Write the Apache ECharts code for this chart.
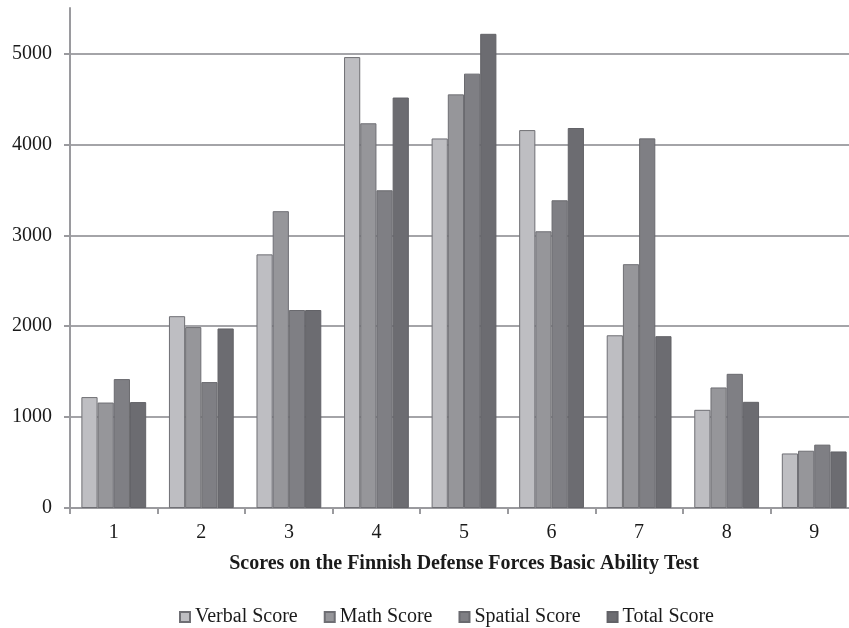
<!DOCTYPE html>
<html>
<head>
<meta charset="utf-8">
<script src="https://cdn.jsdelivr.net/npm/echarts@6/dist/echarts.min.js"></script>
<style>
html, body { margin: 0; padding: 0; background: #fff; overflow: hidden; }
#chart { width: 858px; height: 628px; }
</style>
</head>
<body>
<div id="chart"></div>
<script>
var categories = ['1', '2', '3', '4', '5', '6', '7', '8', '9'];
var seriesNames = ['Verbal Score', 'Math Score', 'Spatial Score', 'Total Score'];
var verbal = [1220, 2110, 2790, 4960, 4065, 4157, 1900, 1080, 600];
var math = [1160, 1990, 3265, 4232, 4550, 3044, 2682, 1326, 630];
var spatial = [1418, 1385, 2178, 3495, 4778, 3385, 4066, 1476, 697];
var total = [1165, 1975, 2178, 4515, 5216, 4180, 1890, 1168, 622];

var fills = ['#bebec2', '#96969a', '#7f7f84', '#6c6c71'];
var borders = ['#6f6f74', '#6f6f74', '#6a6a6f', '#626267'];
var values = [verbal, math, spatial, total];

var serif = '"Liberation Serif", "Times New Roman", serif';

var series = [];
for (var i = 0; i < seriesNames.length; i++) {
    series.push({
        name: seriesNames[i],
        type: 'bar',
        data: values[i],
        barGap: '0%',
        barCategoryGap: '26%',
        itemStyle: {
            color: fills[i],
            borderColor: borders[i],
            borderWidth: 1
        }
    });
}

// plot runs a little past the right edge of the window, like the source
var chart = echarts.init(document.getElementById('chart'));
chart.setOption({
    animation: false,
    backgroundColor: '#ffffff',
    textStyle: { fontFamily: serif },
    grid: {
        left: 70,
        right: 0,
        top: 8,
        bottom: 120
    },
    legend: {
        data: seriesNames,
        top: 602,
        left: 174,
        icon: 'rect',
        itemWidth: 10,
        itemHeight: 10,
        itemGap: 26,
        textStyle: { fontFamily: serif, fontSize: 20, color: '#1a1a1a' }
    },
    xAxis: {
        type: 'category',
        data: categories,
        name: 'Scores on the Finnish Defense Forces Basic Ability Test',
        nameLocation: 'middle',
        nameGap: 46,
        nameTextStyle: { fontFamily: serif, fontSize: 20, fontWeight: 'bold', color: '#1a1a1a' },
        axisLine: { lineStyle: { color: '#9a9a9e', width: 2 } },
        axisTick: { show: true, length: 6, lineStyle: { color: '#9a9a9e', width: 2 } },
        axisLabel: { fontFamily: serif, fontSize: 20, color: '#1a1a1a', margin: 15 }
    },
    yAxis: {
        type: 'value',
        min: 0,
        max: 5500,
        interval: 1000,
        axisLine: { show: true, lineStyle: { color: '#9a9a9e', width: 2 } },
        axisTick: { show: true, length: 6, lineStyle: { color: '#9a9a9e', width: 2 } },
        axisLabel: {
            fontFamily: serif,
            fontSize: 20,
            color: '#1a1a1a',
            margin: 18,
            showMaxLabel: false,
            formatter: function (v) { return v % 1000 === 0 ? String(v) : ''; }
        },
        splitLine: { show: true, showMaxLine: false, lineStyle: { color: '#a4a4a8', width: 2 } }
    },
    series: series
});
</script>
</body>
</html>
